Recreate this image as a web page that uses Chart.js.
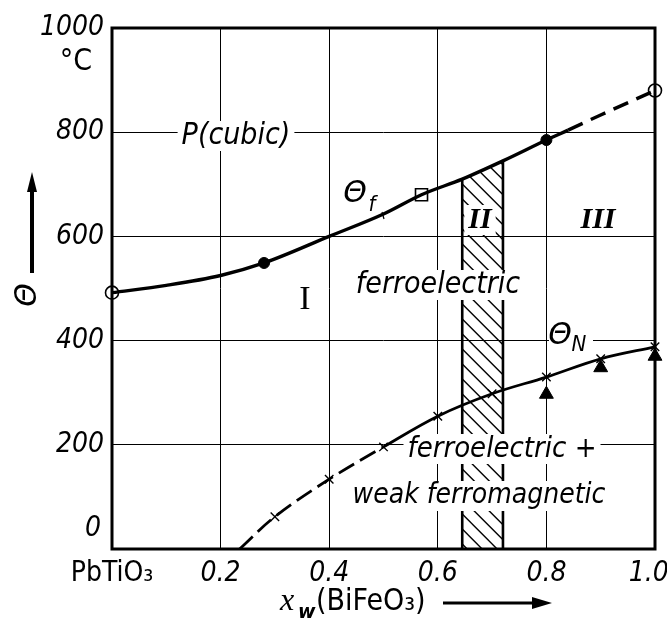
<!DOCTYPE html>
<html>
<head>
<meta charset="utf-8">
<script src="https://cdn.jsdelivr.net/npm/chart.js@4/dist/chart.umd.min.js"></script>
<style>
  html, body { margin: 0; padding: 0; background: #fff; }
  #wrap { width: 667px; height: 627px; position: relative; }
</style>
</head>
<body>
<div id="wrap"><canvas id="c" width="667" height="627"></canvas></div>
<script>
// Axis ticks
const xTicks = [0, 0.2, 0.4, 0.6, 0.8, 1.0];
const xTickLabels = ['PbTiO₃', '0.2', '0.4', '0.6', '0.8', '1.0\u2002'];
const yTicks = [0, 200, 400, 600, 800, 1000];

// Ferroelectric transition temperature Θf (°C) vs. BiFeO3 fraction
const thetaFx = [0, 0.1, 0.2, 0.28, 0.4, 0.5, 0.57, 0.645, 0.72, 0.8, 0.84, 0.9, 1.0];
const thetaFy = [492, 506, 525, 549, 600, 643, 680, 710, 745, 785, 804, 833, 880];
const fSolidEnd = 0.84;          // beyond this the curve is dashed

// Measured points on Θf
const endX = [0, 1.0];      const endY = [492, 880];   // open circles
const dotX = [0.28, 0.8];   const dotY = [549, 785];   // filled circles
const sqX = [0.57];         const sqY = [680];         // open square

// Néel temperature ΘN (°C)
const thetaNx = [0.235, 0.3, 0.4, 0.5, 0.6, 0.7, 0.8, 0.9, 1.0];
const thetaNy = [0, 62, 134, 196, 255, 298, 330, 365, 388];
const nDashedBelow = 0.5;        // ΘN curve is dashed at low x
const triX = [0.8, 0.9, 1.0];  const triY = [297, 348, 370];

// Two-phase region II (hatched)
const bandX = [0.645, 0.72];

const pts = (xs, ys) => xs.map((x, i) => ({ x, y: ys[i] }));
const NARROW = "'DejaVu Sans Condensed', 'DejaVu Sans', sans-serif";
const SANS = "'DejaVu Sans', sans-serif";
const SERIF = "'Liberation Serif', 'DejaVu Serif', serif";

function fTop(x) {
  return thetaFy[thetaFx.indexOf(x)];
}

// Region labels: [text, cx, cy, font, whiteBox]
const regionLabels = [
  ['ferroelectric', 438, 285, 'italic 30px ' + NARROW, true],
  ['ferroelectric +', 502, 449, 'italic 29px ' + NARROW, true],
  ['weak ferromagnetic', 479, 496, 'italic 28px ' + NARROW, true],
  ['P(cubic)', 236, 136, 'italic 30px ' + NARROW, true],
  ['I', 305, 300, '34px ' + SERIF, false],
  ['II', 480, 220, 'bold italic 30px ' + SERIF, true],
  ['III', 598, 220, 'bold italic 30px ' + SERIF, false]
];

const decor = {
  id: 'decor',
  beforeDatasetsDraw(chart) {
    const { ctx, scales: { x, y } } = chart;
    // hatched band
    const xl = x.getPixelForValue(bandX[0]), xr = x.getPixelForValue(bandX[1]);
    const yl = y.getPixelForValue(fTop(bandX[0])), yr = y.getPixelForValue(fTop(bandX[1]));
    const yb = y.getPixelForValue(0);
    ctx.save();
    ctx.beginPath();
    ctx.moveTo(xl, yb); ctx.lineTo(xl, yl); ctx.lineTo(xr, yr); ctx.lineTo(xr, yb); ctx.closePath();
    ctx.clip();
    ctx.strokeStyle = '#000'; ctx.lineWidth = 1.4;
    for (let s = xl - 500; s < xr + 50; s += 15) {
      ctx.beginPath(); ctx.moveTo(s, yl - 60); ctx.lineTo(s + 500, yl + 440); ctx.stroke();
    }
    ctx.restore();
    ctx.save();
    ctx.strokeStyle = '#000'; ctx.lineWidth = 2.6;
    ctx.beginPath(); ctx.moveTo(xl, yb); ctx.lineTo(xl, yl); ctx.stroke();
    ctx.beginPath(); ctx.moveTo(xr, yb); ctx.lineTo(xr, yr); ctx.stroke();
    // white boxes behind labels
    ctx.fillStyle = '#fff';
    for (const [t, cx, cy, f, box] of regionLabels) {
      if (!box) continue;
      ctx.font = f;
      const w = ctx.measureText(t).width;
      ctx.fillRect(cx - w / 2 - 4, cy - 15, w + 8, 30);
    }
    // gaps for the Θ labels
    ctx.fillRect(549, 320, 44, 36);
    ctx.fillRect(342, 178, 42, 34);
    ctx.restore();
  },
  afterDatasetsDraw(chart) {
    const { ctx, chartArea: a } = chart;
    ctx.save();
    ctx.fillStyle = '#000';
    ctx.textAlign = 'center'; ctx.textBaseline = 'middle';
    for (const [t, cx, cy, f] of regionLabels) {
      ctx.font = f; ctx.fillText(t, cx, cy);
    }
    // Θf and ΘN labels
    ctx.font = 'italic 30px ' + SANS;
    ctx.fillText('Θ', 355, 194);
    ctx.fillText('Θ', 560, 336);
    ctx.font = 'italic 22px ' + NARROW;
    ctx.fillText('f', 372, 205);
    ctx.fillText('N', 579, 345);
    ctx.strokeStyle = '#000'; ctx.lineWidth = 1.2;
    ctx.beginPath(); ctx.moveTo(384, 219); ctx.lineTo(382, 212); ctx.stroke();

    // frame
    ctx.lineWidth = 3;
    ctx.strokeRect(a.left, a.top, a.right - a.left, a.bottom - a.top);

    // y-axis zero, unit and symbol
    ctx.font = 'italic 28px ' + NARROW;
    ctx.textAlign = 'right';
    ctx.fillText('0', 101, 529);
    ctx.textAlign = 'center';
    ctx.font = '30px ' + NARROW;
    ctx.fillText('°C', 76, 62);
    ctx.save();
    ctx.translate(28, 295); ctx.rotate(-Math.PI / 2);
    ctx.font = 'italic 30px ' + SANS;
    ctx.fillText('Θ', 0, 0);
    ctx.restore();
    ctx.lineWidth = 4;
    ctx.beginPath(); ctx.moveTo(32, 273); ctx.lineTo(32, 188); ctx.stroke();
    ctx.beginPath(); ctx.moveTo(32, 172); ctx.lineTo(27, 192); ctx.lineTo(37, 192); ctx.closePath(); ctx.fill();

    // x-axis title
    ctx.textAlign = 'left'; ctx.textBaseline = 'alphabetic';
    ctx.font = 'italic 32px ' + SERIF;
    ctx.fillText('x', 280, 610);
    ctx.font = 'bold italic 19px ' + SANS;
    ctx.fillText('w', 298, 618);
    ctx.font = '30px ' + NARROW;
    ctx.fillText('(BiFeO₃)', 316, 610);
    ctx.lineWidth = 3;
    ctx.beginPath(); ctx.moveTo(443, 603); ctx.lineTo(535, 603); ctx.stroke();
    ctx.beginPath(); ctx.moveTo(552, 603); ctx.lineTo(532, 597); ctx.lineTo(532, 609); ctx.closePath(); ctx.fill();
    ctx.restore();
  }
};

const tickFont = (c) => ({
  family: NARROW, size: 28,
  style: (c.tick && c.tick.value === 0) ? 'normal' : 'italic'
});

new Chart(document.getElementById('c'), {
  type: 'line',
  data: {
    datasets: [
      { // Θf
        data: pts(thetaFx, thetaFy), borderColor: '#000', borderWidth: 3.4,
        pointRadius: 0, cubicInterpolationMode: 'monotone', clip: false,
        segment: { borderDash: c => c.p0.parsed.x >= fSolidEnd - 1e-9 ? [16, 9] : undefined }
      },
      { // ΘN
        data: pts(thetaNx, thetaNy), borderColor: '#000', borderWidth: 2.8,
        pointRadius: 0, tension: 0.35, clip: false,
        segment: { borderDash: c => c.p0.parsed.x < nDashedBelow - 1e-9 ? [18, 7] : undefined }
      },
      { // crosses on ΘN
        data: pts(thetaNx.slice(1), thetaNy.slice(1)), showLine: false, clip: false,
        pointStyle: 'crossRot', pointRadius: 6, borderColor: '#000', pointBorderWidth: 1.4
      },
      { // triangles
        data: pts(triX, triY), showLine: false, clip: false,
        pointStyle: 'triangle', pointRadius: 8, backgroundColor: '#000', borderColor: '#000', pointBorderWidth: 1
      },
      { // filled dots
        data: pts(dotX, dotY), showLine: false, clip: false,
        pointStyle: 'circle', pointRadius: 5.5, backgroundColor: '#000', borderColor: '#000'
      },
      { // open square
        data: pts(sqX, sqY), showLine: false, clip: false,
        pointStyle: 'rect', pointRadius: 8.5, backgroundColor: '#fff', borderColor: '#000', pointBorderWidth: 1.6
      },
      { // open circles at ends
        data: pts(endX, endY), showLine: false, clip: false,
        pointStyle: 'circle', pointRadius: 6.5, backgroundColor: '#fff', borderColor: '#000', pointBorderWidth: 1.6
      }
    ]
  },
  options: {
    responsive: false, animation: false, devicePixelRatio: 1,
    layout: { padding: { top: 28, right: 12, left: 0, bottom: 0 } },
    plugins: { legend: { display: false }, tooltip: { enabled: false } },
    scales: {
      x: {
        type: 'linear', min: 0, max: 1,
        afterBuildTicks: s => { s.ticks = xTicks.map(v => ({ value: v })); },
        afterFit: s => { s.height = 78; s.paddingLeft = 0; s.paddingRight = 0; },
        grid: { color: '#000', lineWidth: 1, drawTicks: false },
        border: { display: false },
        ticks: {
          color: '#000', padding: 8, maxRotation: 0, autoSkip: false, font: tickFont,
          callback: v => { const i = xTicks.indexOf(v); return i >= 0 ? xTickLabels[i] : ''; }
        }
      },
      y: {
        type: 'linear', min: 0, max: 1000,
        afterBuildTicks: s => { s.ticks = yTicks.map(v => ({ value: v })); },
        afterFit: s => { s.width = 112; s.paddingTop = 0; s.paddingBottom = 0; },
        grid: { color: '#000', lineWidth: 1, drawTicks: false },
        border: { display: false },
        ticks: {
          color: '#000', padding: 8, font: { family: NARROW, size: 28, style: 'italic' },
          callback: v => (v === 0 ? '' : String(v))
        }
      }
    }
  },
  plugins: [decor]
});
</script>
</body>
</html>
